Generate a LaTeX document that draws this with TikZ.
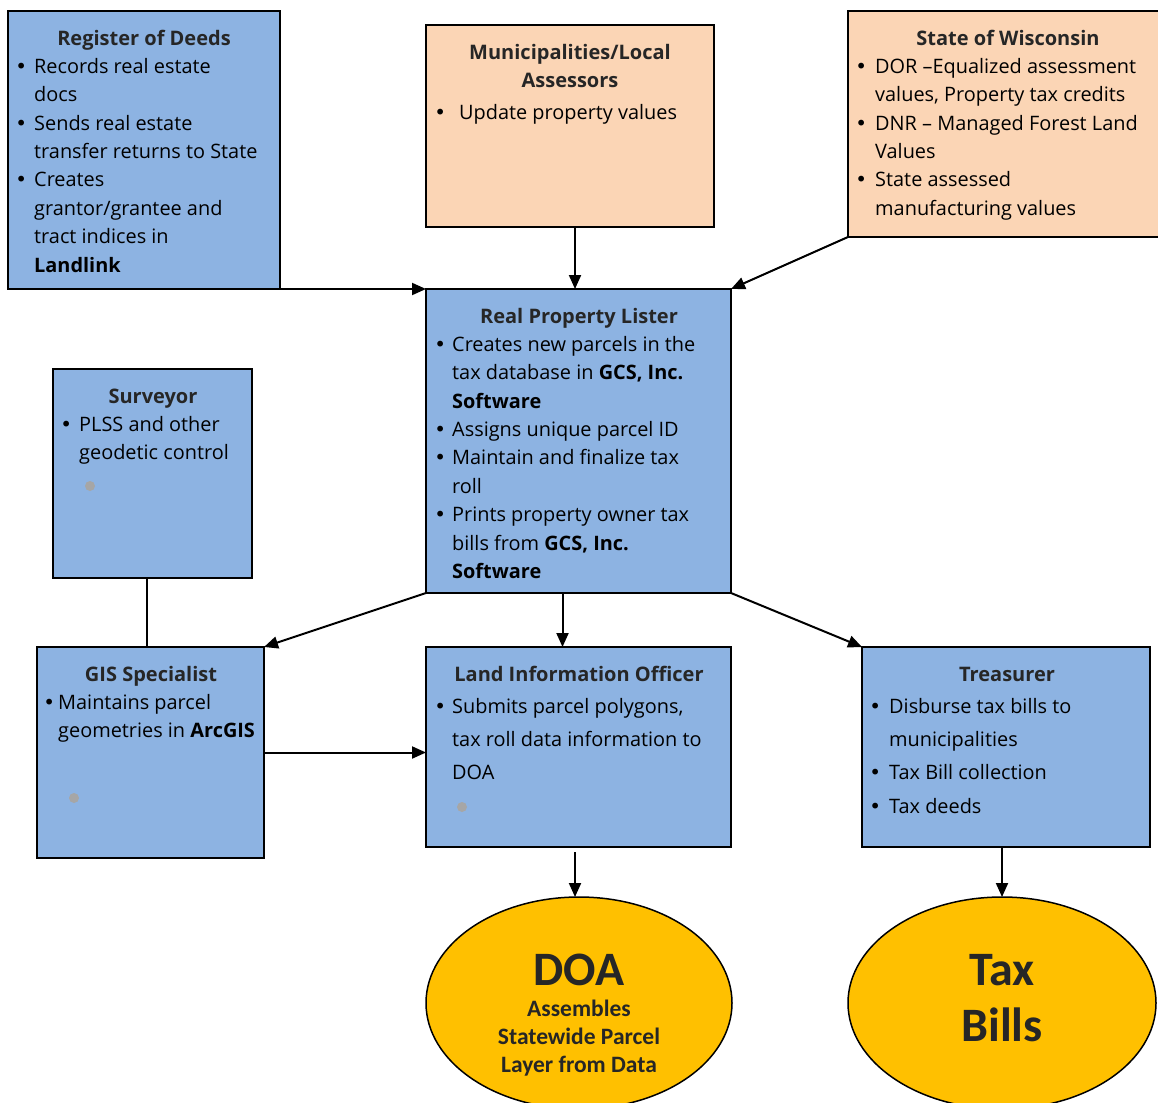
\documentclass[tikz,border=0pt]{standalone}
\usepackage{fontspec}
\setmainfont{Open Sans}
\newfontfamily\calib{Carlito}
\newfontfamily\dejavu{DejaVu Sans}
\usetikzlibrary{arrows.meta,shapes.geometric,calc}
\definecolor{boxblue}{RGB}{141,179,226}
\definecolor{peach}{RGB}{251,213,181}
\definecolor{gold}{RGB}{255,192,0}
\definecolor{ttl}{RGB}{38,38,38}
\definecolor{dotgray}{RGB}{166,166,166}
\newcommand\bu[1]{\llap{{\dejavu\textbullet}\hspace{#1pt}}}
\newcommand\fst[1]{\rule{0pt}{#1pt}}
\begin{document}
\begin{tikzpicture}[x=1pt,y=-1pt,
  box/.style={draw=black, line width=2pt, rectangle, inner sep=0, outer sep=0},
  bluebox/.style={box, fill=boxblue},
  peachbox/.style={box, fill=peach},
  oval/.style={draw=black, line width=1.5pt, ellipse, fill=gold, inner sep=0, outer sep=0},
  ttlstyle/.style={anchor=north, inner sep=0, font=\fontsize{20}{28.4}\selectfont\bfseries, text=ttl, align=center},
  body/.style={anchor=north west, inner sep=0, font=\fontsize{19.9}{28.4}\selectfont, align=left},
  bodywide/.style={body, font=\fontsize{19.9}{33.3}\selectfont},
  ovaltext/.style={anchor=north, inner sep=0, align=center, text=ttl},
  arr/.style={line width=2pt, -{Triangle[length=14pt,width=12pt]}},
  con/.style={line width=2pt}]
\path[use as bounding box] (0,0) rectangle (1158,1102);
\clip (0,0) rectangle (1158,1102);

% boxes
\node[bluebox, minimum width=272pt, minimum height=278pt] (reg) at (144,150) {};
\node[peachbox, minimum width=288pt, minimum height=202pt] (mun) at (570,126) {};
\node[peachbox, minimum width=322pt, minimum height=226pt] (sta) at (1009,124) {};
\node[bluebox, minimum width=305pt, minimum height=304pt] (rpl) at (578.5,441) {};
\node[bluebox, minimum width=199pt, minimum height=209pt] (sur) at (152.5,473.5) {};
\node[bluebox, minimum width=227pt, minimum height=211pt] (gis) at (150.5,752.5) {};
\node[bluebox, minimum width=305pt, minimum height=200pt] (lio) at (578.5,747) {};
\node[bluebox, minimum width=288pt, minimum height=200pt] (tre) at (1006,747) {};
\node[oval, minimum width=306pt, minimum height=212pt] (doa) at (579,1003) {};
\node[oval, minimum width=308pt, minimum height=212pt] (tax) at (1002,1003) {};

% texts (y = first baseline - 20)
\node[ttlstyle] (regT) at (144,25) {\fst{20}Register of Deeds};
\node[body] (regB) at (34,53) {\fst{20}\bu{7}Records real estate\\docs\\\bu{7}Sends real estate\\transfer returns to State\\\bu{7}Creates\\grantor/grantee and\\tract indices in\\\textbf{Landlink}};

\node[ttlstyle] (munT) at (570,39) {\fst{20}Municipalities/Local\\Assessors};
\node[body] (munB) at (459,99) {\fst{20}\bu{13}Update property values};

\node[ttlstyle] (staT) at (1008,25) {\fst{20}State of Wisconsin};
\node[body] (staB) at (875,53) {\fst{20}\bu{8}DOR –Equalized assessment\\values, Property tax credits\\\bu{8}DNR – Managed Forest Land\\Values\\\bu{8}State assessed\\manufacturing values};

\node[ttlstyle] (rplT) at (579,303) {\fst{20}Real Property Lister};
\node[body] (rplB) at (452,331) {\fst{20}\bu{6}Creates new parcels in the\\tax database in \textbf{GCS, Inc.}\\\textbf{Software}\\\bu{6}Assigns unique parcel ID\\\bu{6}Maintain and finalize tax\\roll\\\bu{6}Prints property owner tax\\bills from \textbf{GCS, Inc.}\\\textbf{Software}};

\node[ttlstyle] (surT) at (153,383) {\fst{20}Surveyor};
\node[body] (surB) at (79,411) {\fst{20}\bu{7}PLSS and other\\geodetic control};

\node[ttlstyle] (gisT) at (151,661) {\fst{20}GIS Specialist};
\node[body] (gisB) at (58,689) {\fst{20}\bu{3}Maintains parcel\\geometries in \textbf{ArcGIS}};

\node[ttlstyle] (lioT) at (579,661) {\fst{20}Land Information Officer};
\node[bodywide] (lioB) at (452,693) {\fst{20}\bu{6}Submits parcel polygons,\\tax roll data information to\\DOA};

\node[ttlstyle] (treT) at (1007,661) {\fst{20}Treasurer};
\node[bodywide] (treB) at (889,693) {\fst{20}\bu{8}Disburse tax bills to\\municipalities\\\bu{8}Tax Bill collection\\\bu{8}Tax deeds};

\node[ovaltext, font=\calib\bfseries\fontsize{48}{48}\selectfont] (doaT) at (579,945) {\fst{40}DOA};
\node[ovaltext, font=\calib\bfseries\fontsize{23.5}{28}\selectfont] (doaB) at (579,996) {\fst{20}Assembles\\Statewide Parcel\\Layer from Data};
\node[ovaltext, font=\calib\bfseries\fontsize{48}{56}\selectfont] (taxT) at (1002,945) {\fst{40}Tax\\Bills};

% grey dots
\fill[dotgray] (90,486) circle (5pt);
\fill[dotgray] (74,798) circle (5pt);
\fill[dotgray] (462,807) circle (5pt);

% connectors
\draw[arr] (reg.south east) -- (rpl.north west);
\draw[arr] ([xshift=5pt]mun.south) -- ([xshift=5pt]mun.south |- rpl.north);
\draw[arr] (sta.south west) -- (rpl.north east);
\draw[arr] (rpl.south west) -- (gis.north east);
\draw[arr] ([xshift=-16pt]rpl.south) -- ([xshift=-16pt]lio.north);
\draw[arr] (rpl.south east) -- (tre.north west);
\draw[con] ([xshift=-6pt]sur.south) -- ([xshift=-6pt]sur.south |- gis.north);
\draw[arr] (gis.east) -- (gis.east -| lio.west);
\draw[arr] ([yshift=-5pt,xshift=-4pt]lio.south -| doa.north) -- ([xshift=-4pt]doa.north);
\draw[arr] (tre.south -| tax.north) -- (tax.north);
\end{tikzpicture}
\end{document}
